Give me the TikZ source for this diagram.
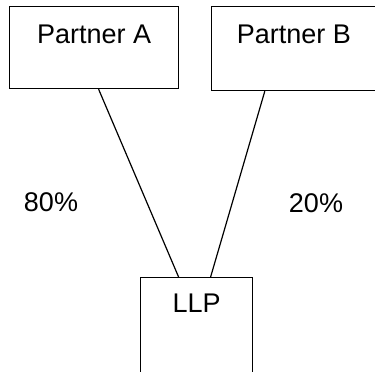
\documentclass[tikz,border=0pt]{standalone}
\usepackage{fontspec}
\setmainfont{Liberation Sans}
\usepackage{tikz}
\usetikzlibrary{
	positioning,
	calc,
	}

\begin{document}
\begin{tikzpicture}[x=1pt, y=-1pt, line width=1.2pt,
		box/.style={draw, rectangle, inner sep=0pt},
		txt/.style={font=\fontsize{27}{32}\selectfont, inner sep=0pt}]
			\clip (0,0) rectangle (375,372);
			\node[box, minimum width=169pt, minimum height=82pt, anchor=north west] (pa) at (9,6) {};
			\node[box, minimum width=164pt, minimum height=84pt, right = 32pt of pa.north east, anchor=north west] (pb) {};
			\node[box, minimum width=112pt, minimum height=130pt, anchor=north west] (llp) at (140,277) {};
			\node[txt] (pa text) at ([yshift=-28pt]pa.north) {Partner A};
			\node[txt] (pb text) at ([yshift=-28pt]pb.north) {Partner B};
			\node[txt] (llp text) at ([yshift=-26pt]llp.north) {LLP};
			\node[txt] (share a) at (51,202) {80\%};
			\node[txt] (share b) at (316,203) {20\%};
			\draw[-] ([xshift=4.5pt]pa.south) -- ([xshift=-18pt]llp.north);
			\draw[-] ([xshift=-29pt]pb.south) -- ([xshift=14pt]llp.north);
		\end{tikzpicture}
\end{document}
